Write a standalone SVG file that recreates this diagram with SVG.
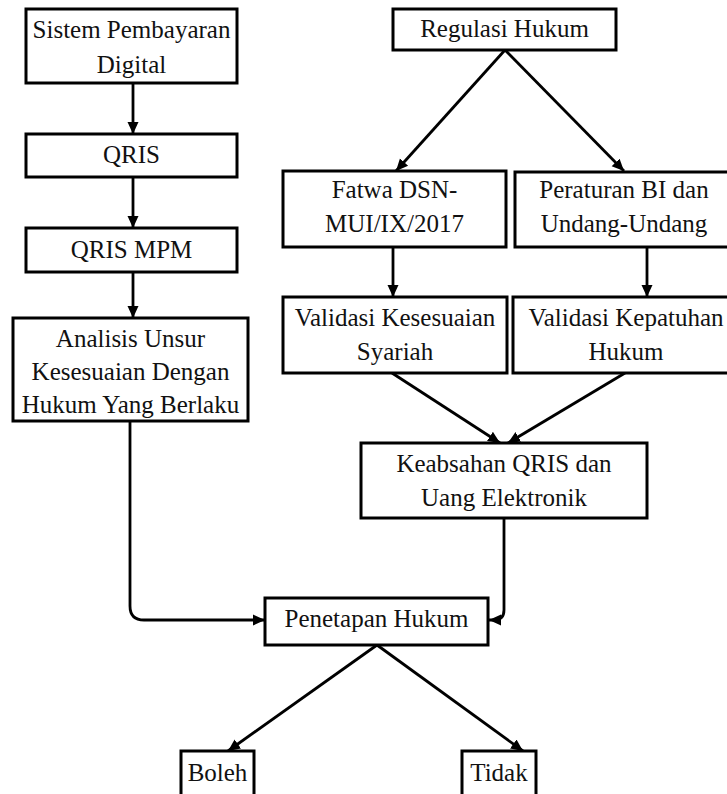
<svg xmlns="http://www.w3.org/2000/svg" width="727" height="794" viewBox="0 0 727 794">
  <style>
    .box { fill: #ffffff; stroke: #000000; stroke-width: 3; }
    .lbl { font-family: "Liberation Serif", "Times New Roman", serif; font-size: 25px; fill: #111111; text-anchor: middle; }
    .edge { fill: none; stroke: #000000; stroke-width: 2.8; marker-end: url(#ah); }
  </style>
  <defs>
    <marker id="ah" markerUnits="userSpaceOnUse" markerWidth="13" markerHeight="13" viewBox="0 0 13 13" refX="12" refY="6.5" orient="auto">
      <path d="M0,1 L12,6.5 L0,12 Z" fill="#000000"/>
    </marker>
  </defs>
  <rect width="727" height="794" fill="#ffffff"/>

  <g id="connectors">
    <line class="edge" x1="133" y1="83" x2="133" y2="134"/>
    <line class="edge" x1="133" y1="177" x2="133" y2="228"/>
    <line class="edge" x1="133" y1="272" x2="133" y2="318"/>
    <line class="edge" x1="505" y1="50" x2="396" y2="171"/>
    <line class="edge" x1="505" y1="50" x2="624" y2="171"/>
    <line class="edge" x1="393" y1="247" x2="393" y2="297"/>
    <line class="edge" x1="647" y1="248" x2="647" y2="297"/>
    <line class="edge" x1="392" y1="373" x2="500" y2="443"/>
    <line class="edge" x1="625" y1="373" x2="508" y2="443"/>
    <path class="edge" d="M130,421 V606 Q130,620 144,620 H265"/>
    <path class="edge" d="M504,518 V610 Q504,620 494,620 H489"/>
    <line class="edge" x1="377" y1="645" x2="228" y2="751"/>
    <line class="edge" x1="377" y1="645" x2="523" y2="751"/>
  </g>

  <g id="sistem">
    <rect class="box" x="26" y="9" width="211" height="74"/>
    <text class="lbl" x="131.5" y="38">Sistem Pembayaran</text>
    <text class="lbl" x="131.5" y="73">Digital</text>
  </g>
  <g id="qris">
    <rect class="box" x="26" y="134" width="211" height="43"/>
    <text class="lbl" x="131.5" y="163">QRIS</text>
  </g>
  <g id="qris-mpm">
    <rect class="box" x="26" y="228" width="211" height="44"/>
    <text class="lbl" x="131.5" y="258">QRIS MPM</text>
  </g>
  <g id="analisis">
    <rect class="box" x="13" y="318" width="235" height="103"/>
    <text class="lbl" x="130.5" y="347">Analisis Unsur</text>
    <text class="lbl" x="130.5" y="380">Kesesuaian Dengan</text>
    <text class="lbl" x="130.5" y="413">Hukum Yang Berlaku</text>
  </g>
  <g id="regulasi">
    <rect class="box" x="393" y="9" width="223" height="41"/>
    <text class="lbl" x="504.5" y="37">Regulasi Hukum</text>
  </g>
  <g id="fatwa">
    <rect class="box" x="283" y="171" width="223" height="76"/>
    <text class="lbl" x="394.5" y="198">Fatwa DSN-</text>
    <text class="lbl" x="394.5" y="232">MUI/IX/2017</text>
  </g>
  <g id="peraturan">
    <rect class="box" x="515" y="172" width="218" height="75"/>
    <text class="lbl" x="624" y="198">Peraturan BI dan</text>
    <text class="lbl" x="624" y="232">Undang-Undang</text>
  </g>
  <g id="validasi-syariah">
    <rect class="box" x="283" y="297" width="224" height="76"/>
    <text class="lbl" x="395" y="326">Validasi Kesesuaian</text>
    <text class="lbl" x="395" y="360">Syariah</text>
  </g>
  <g id="validasi-hukum">
    <rect class="box" x="513" y="297" width="226" height="76"/>
    <text class="lbl" x="626" y="326">Validasi Kepatuhan</text>
    <text class="lbl" x="626" y="360">Hukum</text>
  </g>
  <g id="keabsahan">
    <rect class="box" x="361" y="443" width="286" height="75"/>
    <text class="lbl" x="504" y="472">Keabsahan QRIS dan</text>
    <text class="lbl" x="504" y="506">Uang Elektronik</text>
  </g>
  <g id="penetapan">
    <rect class="box" x="265" y="598" width="223" height="47"/>
    <text class="lbl" x="376.5" y="627">Penetapan Hukum</text>
  </g>
  <g id="boleh">
    <rect class="box" x="181" y="751" width="73" height="60"/>
    <text class="lbl" x="217.5" y="781">Boleh</text>
  </g>
  <g id="tidak">
    <rect class="box" x="462" y="751" width="74" height="60"/>
    <text class="lbl" x="499" y="781">Tidak</text>
  </g>
</svg>
